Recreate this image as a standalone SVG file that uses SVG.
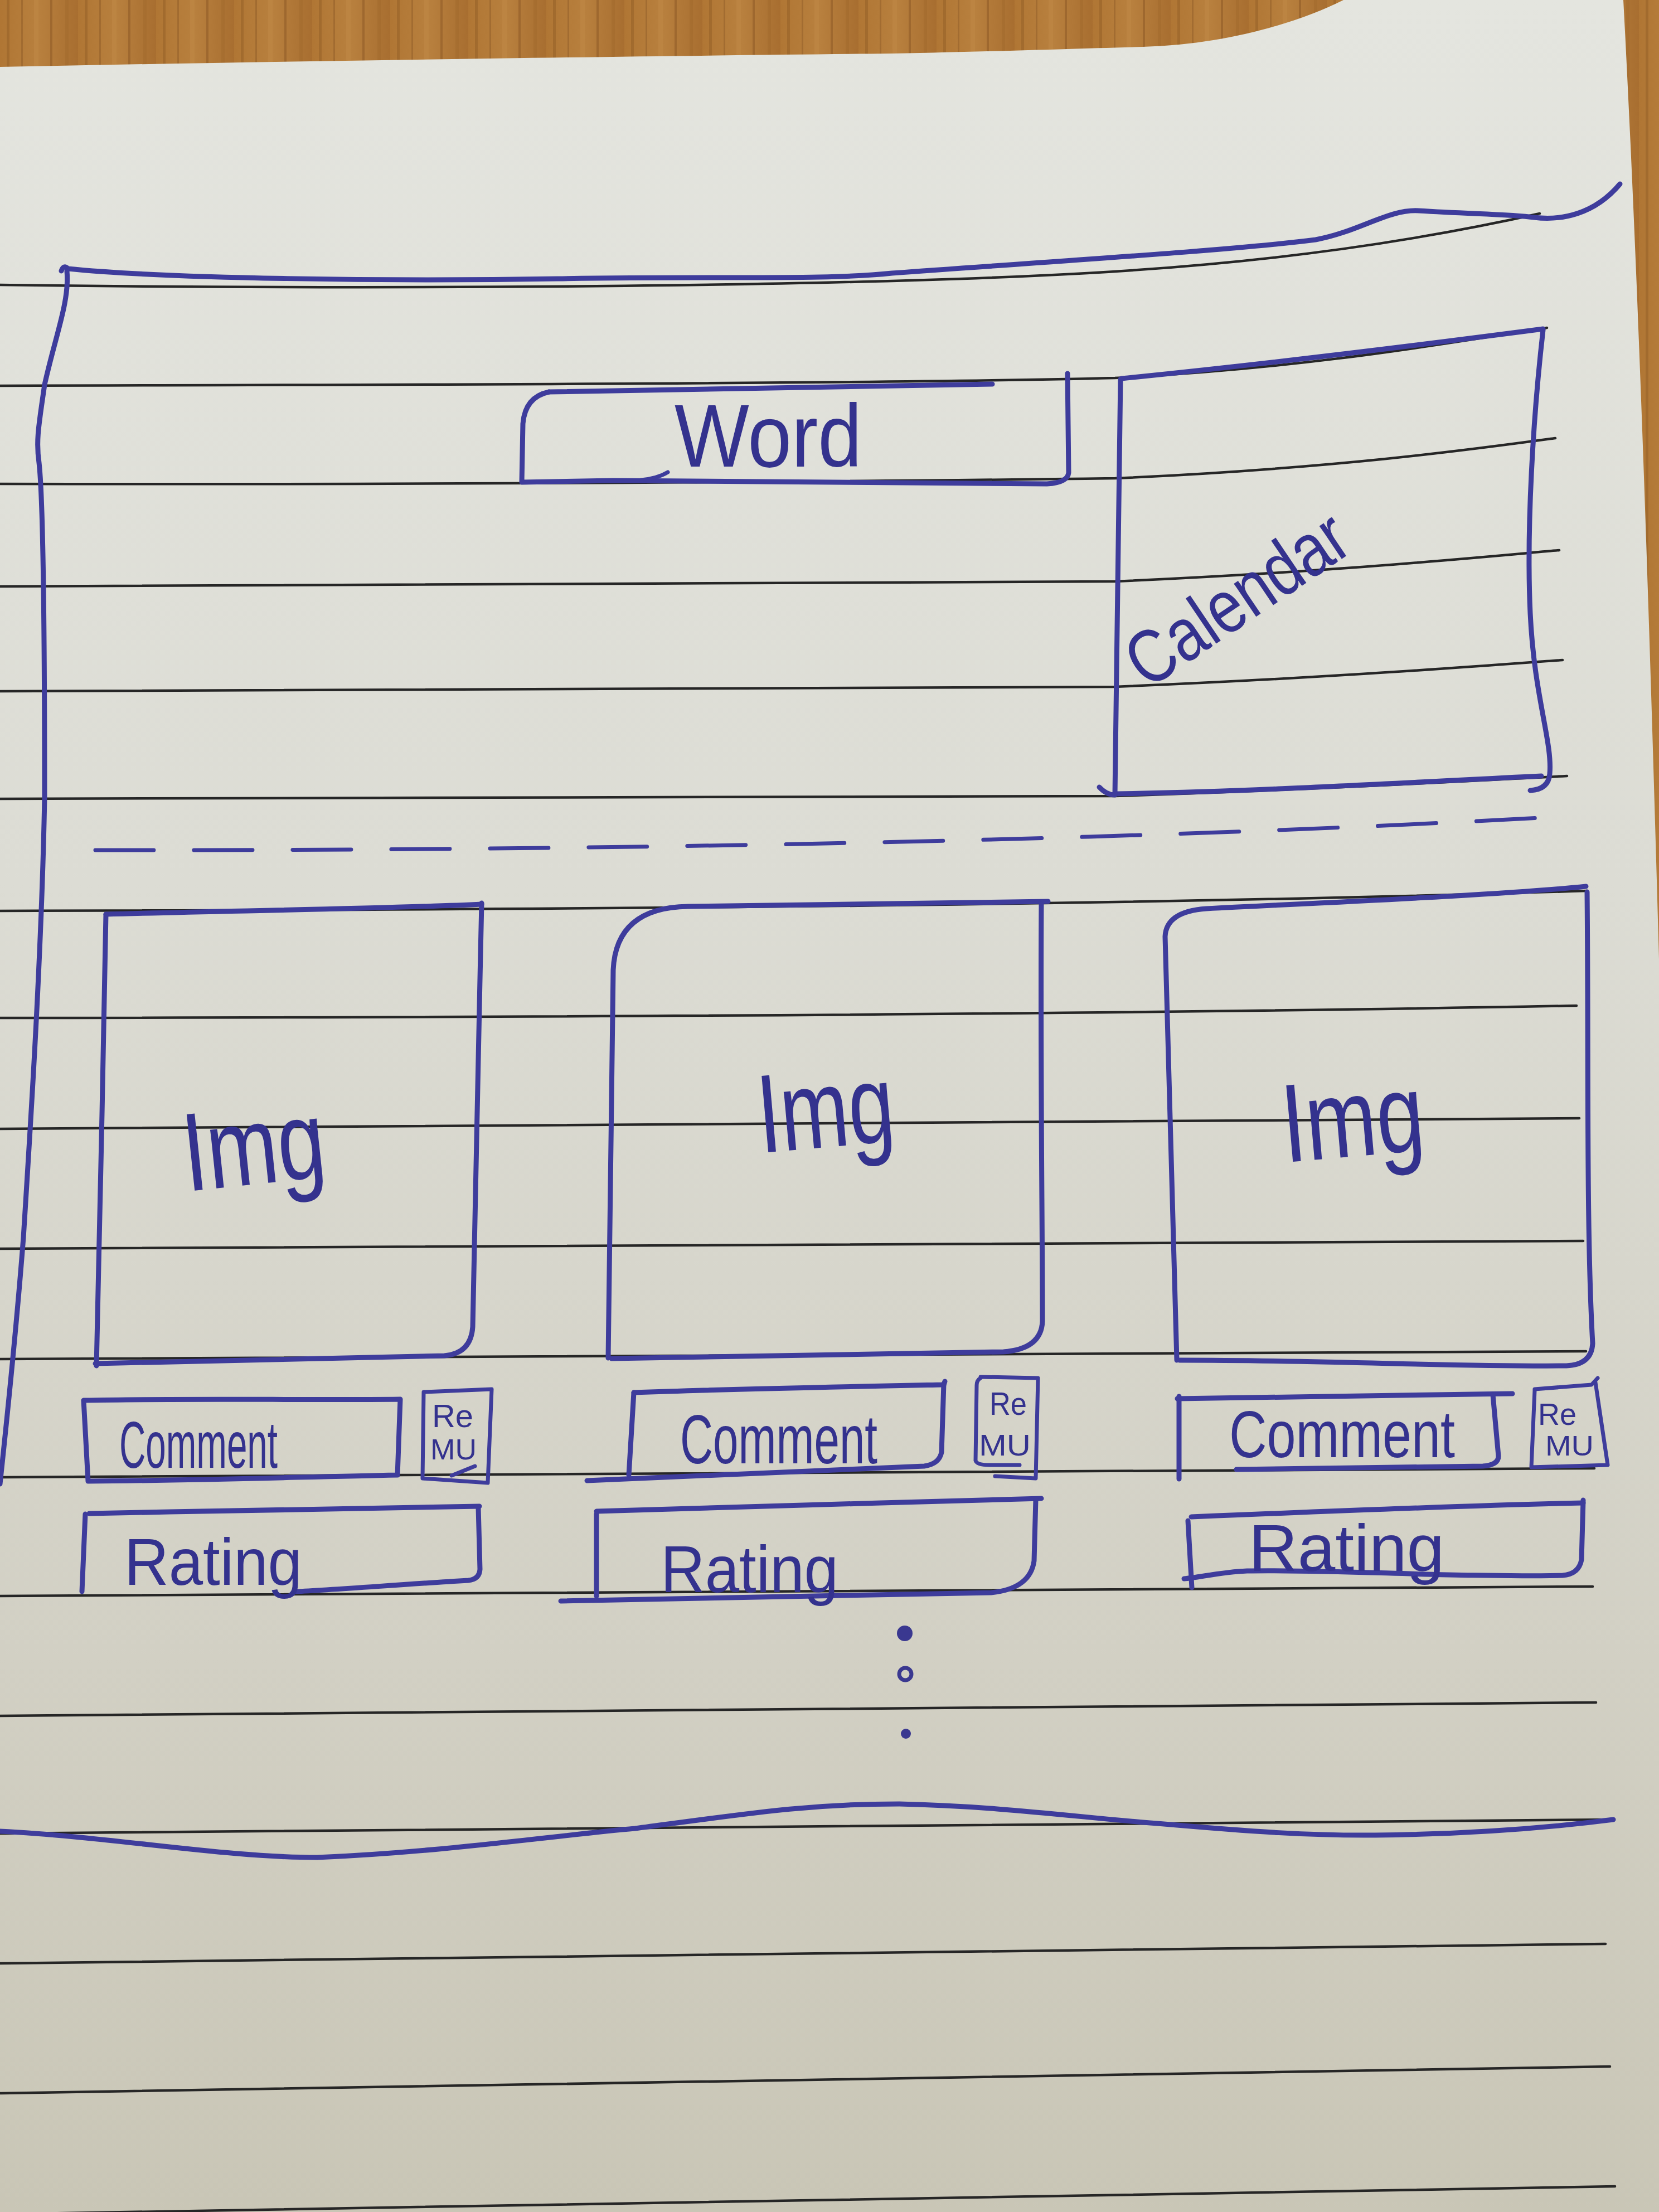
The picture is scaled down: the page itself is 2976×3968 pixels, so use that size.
<svg xmlns="http://www.w3.org/2000/svg" width="2976" height="3968" viewBox="0 0 2976 3968">
  <defs>
    <linearGradient id="paper" x1="0" y1="0" x2="0" y2="1">
      <stop offset="0" stop-color="#e4e5df"/>
      <stop offset="0.4" stop-color="#dcdcd4"/>
      <stop offset="0.75" stop-color="#d2d0c4"/>
      <stop offset="1" stop-color="#c9c6b6"/>
    </linearGradient>
    <linearGradient id="woodTone" x1="0" y1="0" x2="1" y2="0">
      <stop offset="0" stop-color="#b07634"/>
      <stop offset="0.5" stop-color="#b8803e"/>
      <stop offset="1" stop-color="#a86e30"/>
    </linearGradient>
    <pattern id="grain" width="140" height="400" patternUnits="userSpaceOnUse">
      <rect width="140" height="400" fill="url(#woodTone)"/>
      <rect x="12" width="5" height="400" fill="#8e5a24" opacity="0.45"/>
      <rect x="38" width="3" height="400" fill="#7d4e1e" opacity="0.35"/>
      <rect x="61" width="8" height="400" fill="#c48c48" opacity="0.4"/>
      <rect x="90" width="4" height="400" fill="#8a5623" opacity="0.5"/>
      <rect x="117" width="6" height="400" fill="#9a6428" opacity="0.35"/>
    </pattern>
    <style>
      .rule { fill: none; stroke: #262626; stroke-width: 4.5; stroke-linecap: round; }
      .ink { fill: none; stroke: #3e3c9c; stroke-width: 9; stroke-linecap: round; stroke-linejoin: round; }
      .ink-thin { fill: none; stroke: #3e3c9c; stroke-width: 7; stroke-linecap: round; stroke-linejoin: round; }
      .hand { fill: #34328e; font-family: "Liberation Sans Narrow", "Liberation Sans", "DejaVu Sans", sans-serif; }
      .dot { fill: #3a3890; }
    </style>
  </defs>

  <!-- sheet of lined paper on a wooden desk -->
  <rect width="2976" height="3968" fill="url(#paper)"/>
  <path d="M0,0 H2410 C2330,40 2200,80 2050,84 C1900,88 1800,92 1600,96 C1200,100 600,108 0,120 Z" fill="url(#grain)"/>
  <path d="M2912,0 H2976 V1720 C2960,1150 2940,520 2912,0 Z" fill="url(#grain)"/>

  <!-- ruled lines of the notepad -->
  <g id="ruling">
    <path class="rule" d="M0,511 C700,520 1500,515 1950,490 C2300,470 2550,430 2762,383"/>
    <path class="rule" d="M0,692 C800,690 1600,688 2000,678 C2350,660 2600,615 2775,588"/>
    <path class="rule" d="M0,868 C900,870 1700,862 2000,858 C2400,840 2650,805 2790,786"/>
    <path class="rule" d="M0,1052 C900,1052 1700,1047 2000,1043 C2400,1025 2650,1000 2797,987"/>
    <path class="rule" d="M0,1240 C900,1240 1700,1236 2000,1232 C2400,1215 2650,1195 2803,1184"/>
    <path class="rule" d="M0,1433 C900,1433 1700,1431 2000,1428 C2400,1415 2650,1400 2811,1392"/>
    <path class="rule" d="M0,1634 C1000,1632 2000,1625 2847,1598"/>
    <path class="rule" d="M0,1826 C1000,1825 2000,1820 2828,1804"/>
    <path class="rule" d="M0,2025 C1000,2024 2000,2020 2833,2006"/>
    <path class="rule" d="M0,2240 C1000,2238 2000,2234 2840,2226"/>
    <path class="rule" d="M0,2438 C1000,2436 2000,2432 2845,2424"/>
    <path class="rule" d="M0,2650 C1000,2648 2000,2642 2860,2634"/>
    <path class="rule" d="M0,2863 C1000,2861 2000,2855 2857,2846"/>
    <path class="rule" d="M0,3078 C1000,3075 2000,3066 2863,3054"/>
    <path class="rule" d="M0,3289 C1000,3285 2000,3275 2895,3264"/>
    <path class="rule" d="M0,3522 C1000,3515 2000,3500 2880,3487"/>
    <path class="rule" d="M0,3755 C1000,3745 2000,3725 2888,3707"/>
    <path class="rule" d="M0,3972 C1000,3960 2000,3940 2897,3922"/>
  </g>

  <!-- page frame: top edge, left edge and wavy torn bottom -->
  <g id="page-frame">
    <path class="ink" d="M110,486 Q114,474 122,482 C300,500 700,505 1000,500 C1300,495 1480,503 1600,490 C1900,468 2200,450 2360,430 C2440,415 2490,375 2545,378 C2640,384 2710,384 2752,390 C2800,396 2860,385 2906,330"/>
    <path class="ink" d="M120,486 C125,540 100,600 80,690 C70,760 64,790 70,830 C78,900 80,1200 80,1430 C75,1700 56,2000 42,2220 C28,2400 12,2550 0,2662"/>
    <path class="ink" d="M0,3285 C200,3295 400,3332 569,3332 C800,3322 1000,3292 1139,3280 C1350,3252 1450,3236 1613,3236 C1800,3240 1950,3262 2088,3272 C2250,3286 2350,3293 2467,3292 C2650,3290 2800,3276 2894,3264"/>
  </g>

  <!-- header: word of the day -->
  <g id="word">
    <path class="ink" d="M985,703 C1300,696 1600,691 1780,689"/>
    <path class="ink" d="M1915,670 L1917,848 Q1915,866 1878,868 C1600,866 1300,862 1100,862 L936,865 L938,760 Q942,712 985,703"/>
    <path class="ink-thin" d="M1150,861 Q1180,858 1198,847"/>
    <text class="hand" x="1210" y="837" font-size="160" textLength="336" lengthAdjust="spacingAndGlyphs">Word</text>
  </g>

  <!-- header: calendar panel -->
  <g id="calendar">
    <path class="ink" d="M2012,679 C2300,650 2600,612 2768,590"/>
    <path class="ink" d="M2768,592 C2750,750 2738,950 2745,1100 C2752,1250 2785,1330 2780,1388 Q2778,1416 2745,1418"/>
    <path class="ink" d="M2765,1392 C2500,1405 2250,1420 2003,1424"/>
    <path class="ink" d="M2010,680 L2000,1426 Q1985,1426 1972,1412"/>
    <text class="hand" x="0" y="0" font-size="135" textLength="450" lengthAdjust="spacingAndGlyphs" transform="translate(2058,1238) rotate(-34)">Calendar</text>
  </g>

  <!-- separator between header and feed -->
  <g id="connectors">
    <path class="ink-thin" d="M171,1525 C900,1526 1900,1515 2780,1466" stroke-dasharray="105 72"/>
  </g>

  <!-- feed column 1 -->
  <g id="img1">
    <path class="ink" d="M190,1640 C400,1634 700,1630 864,1622"/>
    <path class="ink" d="M864,1620 C858,1900 850,2200 848,2380 Q845,2428 797,2432 L171,2446"/>
    <path class="ink" d="M190,1640 C186,1900 178,2200 173,2450"/>
    <text class="hand" x="330" y="2125" font-size="200" textLength="255" lengthAdjust="spacingAndGlyphs" transform="rotate(-6 450 2080)">Img</text>
  </g>
  <g id="comment1">
    <path class="ink" d="M150,2512 C350,2508 550,2512 718,2510 L713,2646 C520,2650 330,2656 158,2657 Z"/>
    <text class="hand" x="214" y="2633" font-size="118" textLength="284" lengthAdjust="spacingAndGlyphs">Comment</text>
  </g>
  <g id="remu1">
    <path class="ink-thin" d="M760,2497 L882,2492 L875,2660 L758,2652 Z"/>
    <path class="ink-thin" d="M852,2630 L810,2647"/>
    <text class="hand" x="775" y="2560" font-size="58" textLength="74" lengthAdjust="spacingAndGlyphs">Re</text>
    <text class="hand" x="772" y="2618" font-size="52" textLength="83" lengthAdjust="spacingAndGlyphs">MU</text>
  </g>
  <g id="rating1">
    <path class="ink" d="M160,2715 C400,2710 650,2706 860,2702"/>
    <path class="ink" d="M858,2704 L861,2815 Q860,2833 840,2835 C720,2842 600,2852 530,2855"/>
    <path class="ink" d="M153,2716 L147,2855"/>
    <text class="hand" x="223" y="2843" font-size="118" textLength="319" lengthAdjust="spacingAndGlyphs">Rating</text>
  </g>

  <!-- feed column 2 -->
  <g id="img2">
    <path class="ink" d="M1091,2436 L1100,1740 Q1105,1628 1234,1626 C1500,1622 1700,1620 1880,1617"/>
    <path class="ink" d="M1868,1622 C1866,1900 1870,2200 1870,2370 Q1868,2420 1800,2425 L1097,2437"/>
    <text class="hand" x="1360" y="2058" font-size="200" textLength="245" lengthAdjust="spacingAndGlyphs" transform="rotate(-5 1480 2010)">Img</text>
  </g>
  <g id="comment2">
    <path class="ink" d="M1137,2498 C1300,2492 1500,2488 1693,2484 L1695,2478"/>
    <path class="ink" d="M1693,2482 L1689,2605 Q1685,2626 1658,2630 C1400,2640 1200,2650 1053,2656"/>
    <path class="ink" d="M1137,2498 L1128,2646"/>
    <text class="hand" x="1220" y="2625" font-size="125" textLength="354" lengthAdjust="spacingAndGlyphs">Comment</text>
  </g>
  <g id="remu2">
    <path class="ink-thin" d="M1759,2470 L1862,2472 L1858,2652 L1785,2648"/>
    <path class="ink-thin" d="M1759,2472 Q1752,2476 1752,2485 L1750,2620 Q1752,2628 1775,2628 L1829,2628"/>
    <text class="hand" x="1775" y="2538" font-size="58" textLength="67" lengthAdjust="spacingAndGlyphs">Re</text>
    <text class="hand" x="1756" y="2611" font-size="54" textLength="93" lengthAdjust="spacingAndGlyphs">MU</text>
  </g>
  <g id="rating2">
    <path class="ink" d="M1070,2711 C1350,2703 1600,2695 1868,2688"/>
    <path class="ink" d="M1858,2690 L1855,2800 Q1848,2850 1778,2857 C1500,2862 1200,2868 1006,2872"/>
    <path class="ink" d="M1070,2716 L1070,2863"/>
    <text class="hand" x="1185" y="2856" font-size="118" textLength="319" lengthAdjust="spacingAndGlyphs">Rating</text>
  </g>

  <!-- feed column 3 -->
  <g id="img3">
    <path class="ink" d="M2111,2440 L2090,1680 Q2092,1635 2164,1630 C2400,1618 2700,1605 2845,1590"/>
    <path class="ink" d="M2847,1600 C2850,1900 2845,2200 2857,2410 Q2855,2448 2810,2450 C2600,2452 2400,2440 2116,2440"/>
    <text class="hand" x="2300" y="2075" font-size="200" textLength="255" lengthAdjust="spacingAndGlyphs" transform="rotate(-5 2420 2020)">Img</text>
  </g>
  <g id="comment3">
    <path class="ink" d="M2112,2509 C2300,2506 2500,2502 2713,2500"/>
    <path class="ink" d="M2678,2502 L2688,2612 Q2688,2628 2660,2630 L2218,2636"/>
    <path class="ink" d="M2115,2505 L2115,2653"/>
    <text class="hand" x="2205" y="2614" font-size="118" textLength="405" lengthAdjust="spacingAndGlyphs">Comment</text>
  </g>
  <g id="remu3">
    <path class="ink-thin" d="M2753,2492 L2855,2484 L2866,2472"/>
    <path class="ink-thin" d="M2862,2480 L2884,2628 L2747,2632 L2753,2494"/>
    <text class="hand" x="2759" y="2556" font-size="56" textLength="69" lengthAdjust="spacingAndGlyphs">Re</text>
    <text class="hand" x="2772" y="2611" font-size="50" textLength="87" lengthAdjust="spacingAndGlyphs">MU</text>
  </g>
  <g id="rating3">
    <path class="ink" d="M2137,2721 C2400,2710 2650,2700 2840,2696"/>
    <path class="ink" d="M2840,2691 L2837,2798 Q2832,2824 2803,2826 C2600,2830 2400,2815 2237,2818 C2190,2820 2150,2830 2124,2832"/>
    <path class="ink" d="M2131,2728 L2138,2848"/>
    <text class="hand" x="2240" y="2818" font-size="118" textLength="351" lengthAdjust="spacingAndGlyphs">Rating</text>
  </g>

  <!-- continuation dots: more entries follow -->
  <g id="more">
    <circle class="dot" cx="1623" cy="2930" r="14"/>
    <circle cx="1624" cy="3003" r="11" fill="none" stroke="#3a3890" stroke-width="7"/>
    <circle class="dot" cx="1625" cy="3110" r="9"/>
  </g>
</svg>
